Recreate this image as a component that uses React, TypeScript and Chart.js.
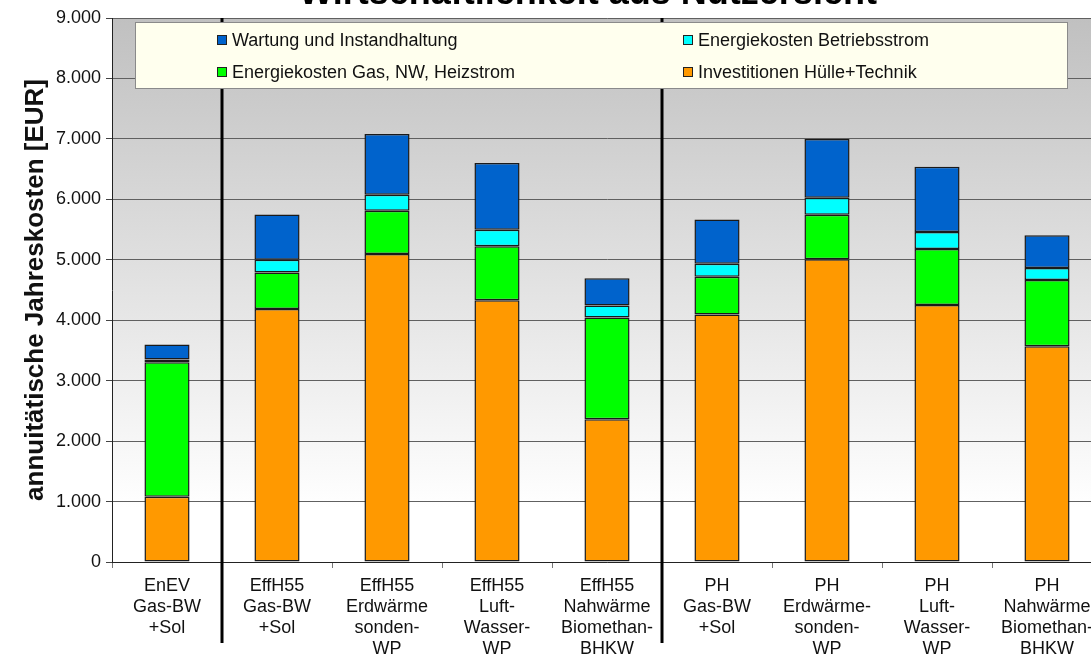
import React, { useEffect, useRef } from 'react';
import { Chart, registerables } from 'chart.js';

Chart.register(...registerables);

const TITLE = 'Wirtschaftlichkeit aus Nutzersicht';
const Y_TITLE = 'annuitätische Jahreskosten [EUR]';

const categories: string[][] = [
  ['EnEV', 'Gas-BW', '+Sol'],
  ['EffH55', 'Gas-BW', '+Sol'],
  ['EffH55', 'Erdwärme', 'sonden-', 'WP'],
  ['EffH55', 'Luft-', 'Wasser-', 'WP'],
  ['EffH55', 'Nahwärme', 'Biomethan-', 'BHKW'],
  ['PH', 'Gas-BW', '+Sol'],
  ['PH', 'Erdwärme-', 'sonden-', 'WP'],
  ['PH', 'Luft-', 'Wasser-', 'WP'],
  ['PH', 'Nahwärme', 'Biomethan-', 'BHKW'],
];

const investitionen = [1080, 4185, 5095, 4330, 2360, 4095, 5010, 4250, 3570];
const energieGas = [2225, 605, 715, 895, 1685, 625, 735, 930, 1095];
const betriebsstrom = [45, 210, 265, 270, 200, 215, 280, 280, 200];
const wartung = [250, 750, 1005, 1105, 450, 730, 975, 1080, 540];

const seriesLabels = [
  'Investitionen Hülle+Technik',
  'Energiekosten Gas, NW, Heizstrom',
  'Energiekosten Betriebsstrom',
  'Wartung und Instandhaltung',
];
const seriesColors = ['#FF9900', '#00FF00', '#00FFFF', '#0063CC'];

const yMin = 0;
const yMax = 9000;
const yStep = 1000;

// group separators: drawn between category i and i+1
const separatorsAfter = [0, 4];

const FONT = '"Liberation Sans", Arial, Helvetica, sans-serif';

const fmt = (v: number | string) =>
  String(Math.round(Number(v))).replace(/\B(?=(\d{3})+(?!\d))/g, '.');

export default function App() {
  const ref = useRef<HTMLCanvasElement>(null);

  useEffect(() => {
    const canvas = ref.current;
    if (!canvas) return;

    const decor = {
      id: 'decor',
      beforeDraw(chart: any) {
        const { ctx, chartArea: a } = chart;
        ctx.save();
        ctx.fillStyle = '#ffffff';
        ctx.fillRect(0, 0, chart.width, chart.height);
        const g = ctx.createLinearGradient(0, a.top, 0, a.bottom);
        g.addColorStop(0, '#c0c0c0');
        g.addColorStop(0.9, '#ffffff');
        g.addColorStop(1, '#ffffff');
        ctx.fillStyle = g;
        ctx.fillRect(a.left, a.top, a.right - a.left, a.bottom - a.top);
        ctx.restore();
      },
      afterDatasetsDraw(chart: any) {
        const { ctx, chartArea: a } = chart;
        const xs = chart.scales.x;
        ctx.save();
        // group separator lines
        ctx.strokeStyle = '#000000';
        ctx.lineWidth = 3;
        separatorsAfter.forEach((i) => {
          const x = Math.round((xs.getPixelForValue(i) + xs.getPixelForValue(i + 1)) / 2);
          ctx.beginPath();
          ctx.moveTo(x, a.top);
          ctx.lineTo(x, a.bottom + 81);
          ctx.stroke();
        });
        // legend box
        const bx = a.left + 23;
        const by = a.top + 4;
        const bw = 932;
        const bh = 66;
        ctx.fillStyle = '#FFFFEE';
        ctx.fillRect(bx, by, bw, bh);
        ctx.strokeStyle = '#8a8a8a';
        ctx.lineWidth = 1;
        ctx.strokeRect(bx + 0.5, by + 0.5, bw, bh);
        const order = [3, 2, 1, 0];
        const colX = [bx + 82, bx + 548];
        const rowY = [by + 18, by + 50];
        ctx.font = `18px ${FONT}`;
        ctx.textBaseline = 'middle';
        ctx.textAlign = 'left';
        order.forEach((di, k) => {
          const ds = chart.data.datasets[di];
          const x = colX[k % 2];
          const y = rowY[Math.floor(k / 2)];
          ctx.fillStyle = ds.backgroundColor;
          ctx.fillRect(x, y - 5, 10, 10);
          ctx.strokeStyle = '#222';
          ctx.strokeRect(x + 0.5, y - 4.5, 9, 9);
          ctx.fillStyle = '#111';
          ctx.fillText(ds.label, x + 15, y + 1);
        });
        ctx.restore();
      },
      afterDraw(chart: any) {
        const { ctx } = chart;
        ctx.save();
        ctx.font = `bold 36px ${FONT}`;
        ctx.fillStyle = '#000';
        ctx.textAlign = 'center';
        ctx.textBaseline = 'alphabetic';
        ctx.fillText(TITLE, 588, 4);
        ctx.restore();
      },
    };

    const datasets = [investitionen, energieGas, betriebsstrom, wartung].map((d, i) => ({
      label: seriesLabels[i],
      data: d,
      backgroundColor: seriesColors[i],
      borderColor: '#1a1a1a',
      borderWidth: 1.5,
      borderSkipped: false,
      barPercentage: 0.41,
      categoryPercentage: 1,
    }));

    const chart = new Chart(canvas, {
      type: 'bar',
      data: { labels: categories as any, datasets },
      plugins: [decor],
      options: {
        responsive: false,
        animation: false,
        devicePixelRatio: 1,
        layout: { padding: { top: 18, right: 18, bottom: 0, left: 0 } },
        font: { family: FONT } as any,
        plugins: {
          legend: { display: false },
          title: { display: false },
          tooltip: { enabled: false },
        },
        scales: {
          x: {
            stacked: true,
            offset: true,
            grid: {
              display: true,
              offset: true,
              drawOnChartArea: false,
              tickLength: 6,
              color: '#777',
            },
            border: { color: '#222', width: 1 },
            ticks: {
              autoSkip: false,
              maxRotation: 0,
              minRotation: 0,
              padding: 8,
              color: '#111',
              font: { family: FONT, size: 18, lineHeight: 1.16 },
            },
            afterFit: (s: any) => {
              s.height = 93;
            },
          },
          y: {
            stacked: true,
            min: yMin,
            max: yMax,
            ticks: {
              stepSize: yStep,
              padding: 5,
              color: '#111',
              font: { family: FONT, size: 18 },
              callback: (v: any) => fmt(v),
            },
            grid: { color: '#606060', lineWidth: 1, tickLength: 6, tickColor: '#444' },
            border: { color: '#222', width: 1 },
            title: {
              display: true,
              text: Y_TITLE,
              color: '#111',
              font: { family: FONT, size: 26, weight: 'bold' },
              padding: { top: 20, bottom: 0 },
            },
            afterFit: (s: any) => {
              s.width = 112;
            },
          },
        },
      } as any,
    });

    return () => chart.destroy();
  }, []);

  return (
    <div
      style={{
        position: 'fixed',
        left: 0,
        top: 0,
        width: 1091,
        height: 655,
        overflow: 'hidden',
        background: '#fff',
      }}
    >
      <canvas ref={ref} width={1120} height={655} style={{ display: 'block' }} />
    </div>
  );
}
